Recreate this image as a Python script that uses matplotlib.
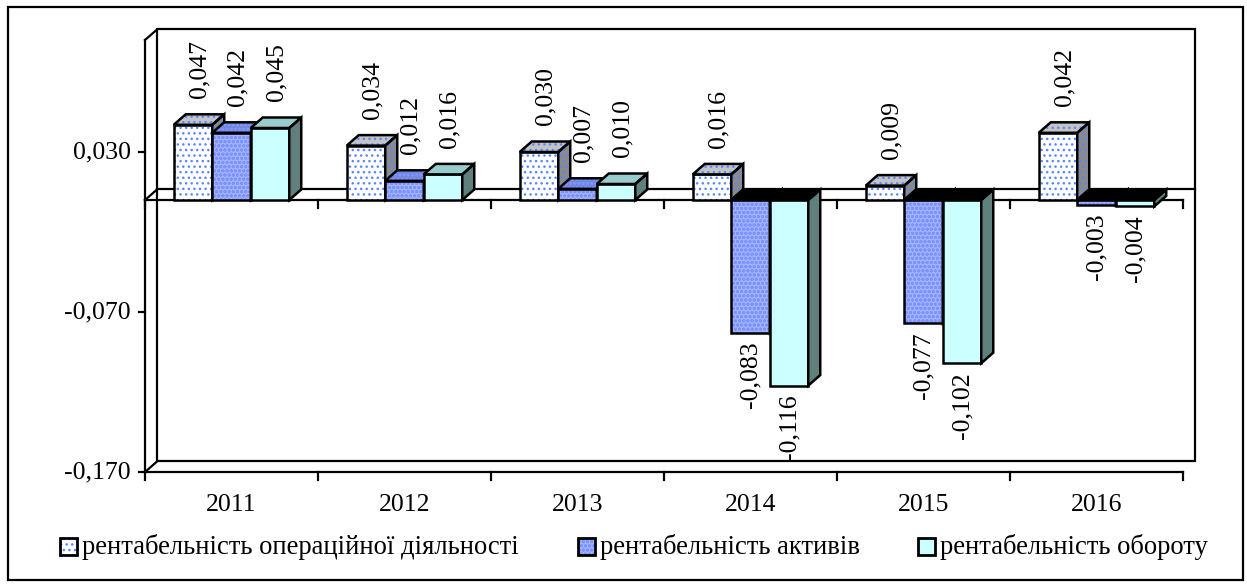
import matplotlib
matplotlib.use('Agg')
import matplotlib.pyplot as plt
from matplotlib.patches import Polygon, Rectangle

# ---------------- data ----------------
years = ['2011', '2012', '2013', '2014', '2015', '2016']
op_values = [0.047, 0.034, 0.030, 0.016, 0.009, 0.042]
assets_values = [0.042, 0.012, 0.007, -0.083, -0.077, -0.003]
turnover_values = [0.045, 0.016, 0.010, -0.116, -0.102, -0.004]
series_names = ['рентабельність операційної діяльності',
                'рентабельність активів',
                'рентабельність обороту']
ytick_values = [0.030, -0.070, -0.170]
ytick_labels = ['0,030', '-0,070', '-0,170']
y_min, y_max = -0.17, 0.10

plt.rcParams['font.family'] = ['Liberation Serif', 'DejaVu Serif']
plt.rcParams['hatch.linewidth'] = 1.0
FS = 18.5
FS_LEG = 19.2

W, H = 1247, 587
fig = plt.figure(figsize=(W / 100, H / 100), dpi=100)

# overlay axes in pixel coords (frame + legend)
ov = fig.add_axes([0, 0, 1, 1])
ov.set_xlim(0, W)
ov.set_ylim(H, 0)
ov.axis('off')

# plot axes
L, R, T, B = 145, 1197, 29, 472
PX_CAT = 173.0
PX_UNIT = (B - 40) / (y_max - y_min)
ax = fig.add_axes([L / W, 1 - B / H, (R - L) / W, (B - T) / H])
ax.set_xlim(-0.5, -0.5 + (R - L) / PX_CAT)
ax.set_ylim(y_min, y_min + (B - T) / PX_UNIT)
ax.axis('off')

DX = 12 / PX_CAT
DY = 10.5 / PX_UNIT
BW = 38.5 / PX_CAT
n = len(years)
lw_edge = 1.8
lw_ax = 1.6

# ---- walls / axes lines ----
xl, xr = -0.5, n - 0.5
ax.add_patch(Rectangle((xl + DX, y_min + DY), (xr - xl), (y_max - y_min), fill=False,
                       edgecolor='black', lw=lw_ax, clip_on=False, zorder=1))
ax.plot([xl, xl], [y_min, y_max], color='black', lw=lw_ax, clip_on=False, zorder=1)
ax.plot([xl, xl + DX], [y_max, y_max + DY], color='black', lw=lw_ax, clip_on=False, zorder=1)
ax.plot([xl, xl + DX], [y_min, y_min + DY], color='black', lw=lw_ax, clip_on=False, zorder=1)
ax.plot([xl, xr], [y_min, y_min], color='black', lw=lw_ax, clip_on=False, zorder=1)
ax.plot([xl, xr], [0, 0], color='black', lw=lw_ax, clip_on=False, zorder=1)
ax.plot([xl + DX, xr + DX], [DY, DY], color='black', lw=lw_ax, clip_on=False, zorder=1)
ax.plot([xl, xl + DX], [0, DY], color='black', lw=lw_ax, clip_on=False, zorder=1)
tick_len = 8 / PX_UNIT
for k in range(n + 1):
    xb = xl + k
    ax.plot([xb, xb], [0, -tick_len], color='black', lw=lw_ax, clip_on=False, zorder=1)
    ax.plot([xb, xb], [y_min, y_min - tick_len], color='black', lw=lw_ax, clip_on=False, zorder=1)
tick_w = 6 / PX_CAT
for v, lab in zip(ytick_values, ytick_labels):
    ax.plot([xl - tick_w, xl], [v, v], color='black', lw=lw_ax, clip_on=False, zorder=1)
    ax.text(xl - 14 / PX_CAT, v, lab, ha='right', va='center', fontsize=FS)
for i, yr in enumerate(years):
    ax.text(i, y_min - 33 / PX_UNIT, yr, ha='center', va='center', fontsize=FS)

# ---- bars ----
styles = [
    dict(front='#ffffff', hatch='...', hcol='#5a86ff', top='#c4c4c4', side='#8a8a8a'),
    dict(front='#a3b3ff', hatch='oooo', hcol='#7d93ff', top='#7085d6', side='#4a5aa0'),
    dict(front='#ccffff', hatch=None, hcol='#ccffff', top='#99cccc', side='#5f807c'),
]
all_vals = [op_values, assets_values, turnover_values]


def poly(pts, fc, hatch, hcol, z):
    ax.add_patch(Polygon(pts, closed=True, facecolor=fc, hatch=hatch, edgecolor=hcol,
                         lw=0, zorder=z, clip_on=False))
    ax.add_patch(Polygon(pts, closed=True, fill=False, edgecolor='black', lw=lw_edge,
                         joinstyle='miter', zorder=z + 0.001, clip_on=False))


for s, (vals, st) in enumerate(zip(all_vals, styles)):
    xs = [i + (s - 1) * BW for i in range(n)]
    fills = ax.bar(xs, vals, width=BW, color=st['front'], hatch=st['hatch'],
                   edgecolor=st['hcol'], linewidth=0, clip_on=False)
    outl = ax.bar(xs, vals, width=BW, fill=False, edgecolor='black',
                  linewidth=lw_edge, clip_on=False)
    for i, (bf, bo, v) in enumerate(zip(fills, outl, vals)):
        z = 10 + 3 * i + s
        bf.set_zorder(z)
        bo.set_zorder(z + 0.002)
        x1 = bf.get_x()
        x2 = x1 + bf.get_width()
        if v >= 0:
            top = [(x1, v), (x2, v), (x2 + DX, v + DY), (x1 + DX, v + DY)]
            side = [(x2, 0), (x2 + DX, DY), (x2 + DX, v + DY), (x2, v)]
            poly(top, st['top'], st['hatch'], st['hcol'] if st['hatch'] else st['top'], z + 0.003)
            poly(side, st['side'], st['hatch'], st['hcol'] if st['hatch'] else st['side'], z + 0.003)
            ax.text((x1 + x2) / 2 + DX / 2, v + DY + 16 / PX_UNIT,
                    f"{v:.3f}".replace('.', ','), rotation=90, ha='center', va='bottom',
                    fontsize=FS, zorder=50)
        else:
            top = [(x1, 0), (x2, 0), (x2 + DX, DY), (x1 + DX, DY)]
            side = [(x2, v), (x2, 0), (x2 + DX, DY), (x2 + DX, v + DY)]
            poly(side, st['side'], None, st['side'], z + 0.003)
            poly(top, '#000000', None, '#000000', z + 0.004)
            ax.text((x1 + x2) / 2, v - 9 / PX_UNIT,
                    f"{v:.3f}".replace('.', ','), rotation=90, ha='center', va='top',
                    fontsize=FS, zorder=50)

# ---- outer frame ----
ov.add_patch(Rectangle((8, 7), 1235, 573, fill=False, edgecolor='black', lw=1.6))

# ---- legend ----
leg_x = [60, 578, 918]
leg_y = 546
MS = 17
for xm, st, name in zip(leg_x, styles, series_names):
    ov.add_patch(Rectangle((xm, leg_y - MS / 2), MS, MS, facecolor=st['front'],
                           hatch=st['hatch'], edgecolor=st['hcol'], lw=0))
    ov.add_patch(Rectangle((xm, leg_y - MS / 2), MS, MS, fill=False, edgecolor='black', lw=2.0))
    ov.text(xm + MS + 5, leg_y + 1, name, ha='left', va='center', fontsize=FS_LEG)

fig.savefig('out.png', dpi=100)
